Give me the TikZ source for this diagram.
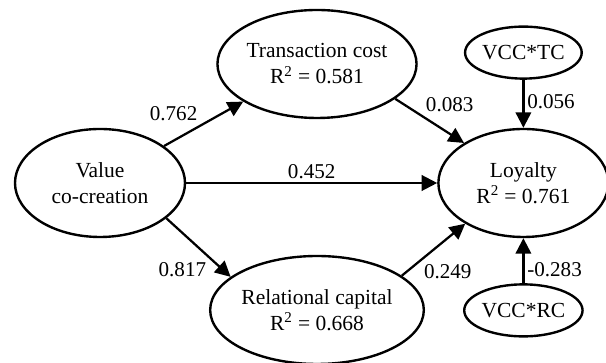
\documentclass[tikz,border=0pt]{standalone}
\usepackage{fontspec}
\setmainfont{Liberation Serif}
\usetikzlibrary{arrows.meta,positioning,shapes.geometric}

\begin{document}
\begin{tikzpicture}[
    construct/.style={draw=black, ellipse, line width=1.7pt, minimum width=4.25cm, minimum height=2.7cm, inner sep=0pt, align=center, font=\fontsize{15.3pt}{18.5pt}\selectfont},
    moderator/.style={draw=black, ellipse, line width=1.7pt, minimum width=2.7cm, minimum height=1.3cm, inner sep=0pt, align=center, font=\fontsize{15.3pt}{18.5pt}\selectfont},
    link/.style={-{Triangle[length=11pt, width=11pt]}, line width=1.6pt, black},
    coef/.style={inner sep=2pt, font=\fontsize{15pt}{18pt}\selectfont}
]
    \useasboundingbox (-2.5,-4.5) rectangle (12.65,4.575);

    % Constructs
    \node[construct] (vcc) at (0,0) {Value\\co-creation};
    \node[construct, right=6.275cm of vcc] (loyalty) {Loyalty\\R\textsuperscript{2} = 0.761};
    \node[construct] (tc) at (5.425,2.975) {Transaction cost\\R\textsuperscript{2} = 0.581};
    \node[construct] (rc) at (5.425,-3.175) {Relational capital\\R\textsuperscript{2} = 0.668};

    % Interaction terms
    \node[moderator, above=1.2cm of loyalty] (vcctc) {VCC*TC};
    \node[moderator, below=1.125cm of loyalty] (vccrc) {VCC*RC};

    % Paths
    \draw[link] (vcc.30) -- node[coef, pos=0.47, above left] {0.762} (tc.207);
    \draw[link] (vcc.-28) -- node[coef, pos=0.68, below left] {0.817} (rc.159);
    \draw[link] (vcc) -- node[coef, above] {0.452} (loyalty);
    \draw[link] (tc.-24) -- node[coef, pos=0.39, above right] {0.083} (loyalty.146);
    \draw[link] (rc.22) -- node[coef, pos=0.29, below right] {0.249} (loyalty.215);

    % Moderating effects
    \draw[link] (vcctc) -- node[coef, pos=0.45, right] {0.056} (loyalty);
    \draw[link] (vccrc) -- node[coef, pos=0.3, right] {-0.283} (loyalty);
\end{tikzpicture}
\end{document}
